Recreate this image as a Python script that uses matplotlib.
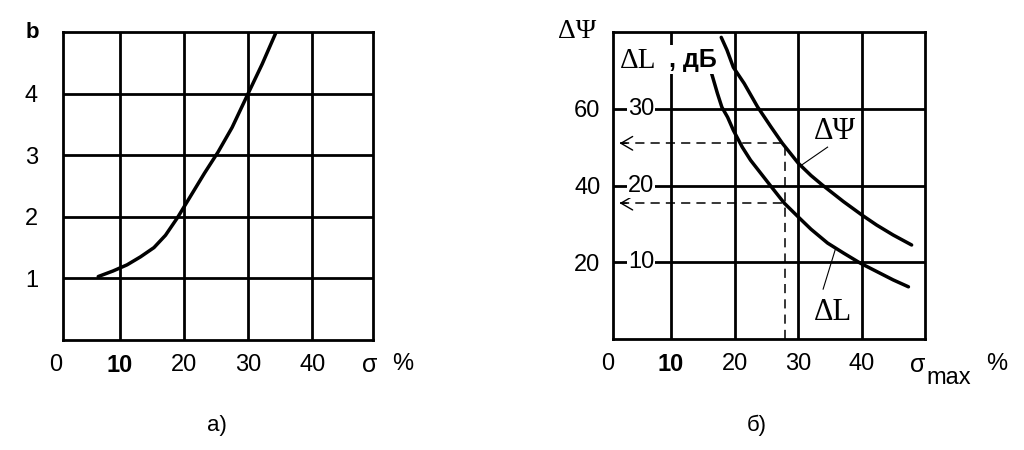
import matplotlib
matplotlib.use("Agg")
import matplotlib.pyplot as plt

plt.rcParams["font.family"] = ["Liberation Sans", "DejaVu Sans"]

# panel a): b versus sigma, %
sigma_a = [6.6, 8.9, 11.1, 13.2, 15.3, 17.1, 19.0, 21.1, 23.2, 25.3, 27.5, 30.0, 32.2, 34.3]
b_vals = [1.03, 1.12, 1.22, 1.35, 1.50, 1.70, 1.99, 2.35, 2.71, 3.05, 3.45, 4.0, 4.48, 4.98]

# panel б): delta Psi and delta L versus sigma_max, %
sigma_psi = [17.9, 18.8, 19.8, 21.5, 23.6, 25.7, 27.5, 30.0, 32.0, 33.8, 37.1, 40.0,
             42.3, 44.9, 47.8]
psi_vals = [78.6, 75.3, 70.8, 66.6, 60.5, 55.3, 51.0, 45.8, 42.6, 40.1, 35.8, 32.3,
            29.7, 27.1, 24.5]
sigma_dl = [16.0, 17.3, 18.0, 18.9, 19.8, 21.2, 22.5, 24.1, 25.7, 27.8, 30.0, 32.0,
            34.6, 37.1, 39.7, 42.3, 44.9, 47.3]
dl_vals = [35.7, 32.0, 30.2, 28.9, 27.2, 25.0, 23.3, 21.6, 19.9, 17.7, 15.9, 14.3,
           12.5, 11.2, 9.9, 8.8, 7.7, 6.8]

# example reading drawn with dashed lines
sigma_mark = 27.9
psi_mark = 51.0
dl_mark = 17.7

x_ticks = [10, 20, 30, 40]
b_ticks = [1, 2, 3, 4]
psi_ticks = [20, 40, 60]
dl_ticks = [10, 20, 30]

FS = 17
SERIF = ["Liberation Serif", "DejaVu Serif"]
GRID_LW = 2.0
CURVE_LW = 2.5


def frame(ax, xlim, ylim, yticks):
    ax.set_xlim(*xlim)
    ax.set_ylim(*ylim)
    for x in x_ticks:
        ax.axvline(x, color="black", lw=GRID_LW, zorder=1)
    for y in yticks:
        ax.axhline(y, color="black", lw=GRID_LW, zorder=1)
    for s in ax.spines.values():
        s.set_linewidth(GRID_LW)
    ax.set_xticks(x_ticks)
    ax.set_xticklabels([str(v) for v in x_ticks], fontsize=FS)
    ax.get_xticklabels()[0].set_fontweight("bold")
    ax.tick_params(length=0, axis="x", pad=10)
    ax.annotate("0", xy=(0, 0), xycoords=("data", "axes fraction"),
                xytext=(0, -10), textcoords="offset points",
                ha="center", va="top", fontsize=FS)


fig = plt.figure(figsize=(10.24, 4.5), dpi=100)

# --- a) ---
ax1 = fig.add_axes([63 / 1024, 110 / 450, 310 / 1024, 308 / 450])
frame(ax1, (1.1, 49.5), (0, 5), b_ticks)
ax1.set_yticks(b_ticks)
ax1.set_yticklabels([str(v) for v in b_ticks], fontsize=FS)
ax1.tick_params(axis="y", length=0, pad=18)
ax1.plot(sigma_a, b_vals, color="black", lw=CURVE_LW, solid_capstyle="round", zorder=3)
fig.text(32 / 1024, 1 - 33 / 450, "b", fontsize=16, fontweight="bold",
         ha="center", va="center")
fig.text(370 / 1024, 1 - 365 / 450, "σ", fontsize=18, ha="center", va="center")
fig.text(403 / 1024, 1 - 364 / 450, "%", fontsize=FS, ha="center", va="center")
fig.text(217 / 1024, 1 - 425 / 450, "а)", fontsize=16, ha="center", va="center")

# --- б) ---
ax2 = fig.add_axes([613 / 1024, 111 / 450, 312 / 1024, 307 / 450])
frame(ax2, (0.9, 49.9), (0, 80), psi_ticks)
ax2.set_yticks(psi_ticks)
ax2.set_yticklabels([str(v) for v in psi_ticks], fontsize=FS)
ax2.tick_params(axis="y", length=0, pad=9)

for v in dl_ticks:
    ax2.text(0.09, 2 * v, str(v), transform=ax2.get_yaxis_transform(),
             fontsize=FS, ha="center", va="center", zorder=4,
             bbox=dict(boxstyle="square,pad=0.05", fc="white", ec="none"))

ax2.plot(sigma_psi, psi_vals, color="black", lw=CURVE_LW, solid_capstyle="round", zorder=3)
ax2.plot(sigma_dl, [2 * v for v in dl_vals], color="black", lw=CURVE_LW,
         solid_capstyle="round", zorder=3)

# dashed reading lines with arrows to the axis
ax2.plot([sigma_mark, sigma_mark], [0, psi_mark], color="black", lw=1.1,
         dashes=(6, 4), zorder=2)
for y in (psi_mark, 2 * dl_mark):
    ax2.plot([2.0, sigma_mark], [y, y], color="black", lw=1.1, dashes=(6, 4), zorder=2)
    ax2.annotate("", xy=(1.5, y), xytext=(3.5, y),
                 arrowprops=dict(arrowstyle="->,head_length=0.6,head_width=0.35",
                                 lw=1.0, mutation_scale=14))

# curve labels with leader lines
ax2.text(35.7, 54.0, "ΔΨ", family=SERIF, fontsize=22, ha="center", va="center", zorder=4)
ax2.plot([34.6, 30.5], [50.0, 45.3], color="black", lw=0.8, zorder=2)
ax2.text(35.4, 7.0, "ΔL", family=SERIF, fontsize=22, ha="center", va="center", zorder=4)
ax2.plot([35.9, 33.9], [23.8, 13.0], color="black", lw=0.8, zorder=2)

ax2.text(0.022, 0.905, "ΔL", transform=ax2.transAxes, family=SERIF, fontsize=21,
         ha="left", va="center", zorder=4,
         bbox=dict(boxstyle="square,pad=0.1", fc="white", ec="none"))
ax2.text(0.178, 0.91, ", дБ", transform=ax2.transAxes, fontsize=18, fontweight="bold",
         ha="left", va="center", zorder=4,
         bbox=dict(boxstyle="square,pad=0.1", fc="white", ec="none"))

fig.text(577 / 1024, 1 - 32 / 450, "ΔΨ", family=SERIF, fontsize=20, ha="center", va="center")
fig.text(918 / 1024, 1 - 365 / 450, "σ", fontsize=18, ha="center", va="center")
fig.text(949 / 1024, 1 - 378 / 450, "max", fontsize=FS, ha="center", va="center")
fig.text(997 / 1024, 1 - 364 / 450, "%", fontsize=FS, ha="center", va="center")
fig.text(757 / 1024, 1 - 425 / 450, "б)", fontsize=16, ha="center", va="center")

fig.savefig("out.png", dpi=100, facecolor="white")
